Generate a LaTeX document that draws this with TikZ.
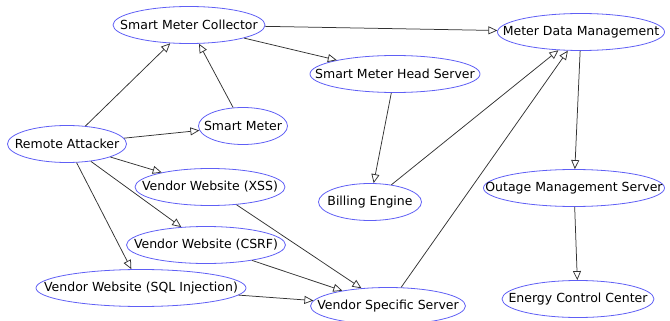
\documentclass[tikz,border=0pt]{standalone}
\usepackage{fontspec}
\setmainfont{DejaVu Sans}
\usepackage{tikz}
\usetikzlibrary{shapes.geometric, arrows.meta}
\definecolor{assetline}{RGB}{95, 95, 245}
\definecolor{edgeline}{RGB}{50, 50, 50}

\begin{document}
\begin{tikzpicture}[
    x=1pt, y=-1pt,
    every node/.style={font=\fontsize{12.5}{15}\selectfont},
    asset/.style={ellipse, draw=assetline, line width=0.8pt, inner xsep=-30pt, inner ysep=0pt, minimum height=37pt},
    arr/.style={-{Triangle[open, length=9pt, width=8pt]}, draw=edgeline, line width=0.75pt},
]
\useasboundingbox (0,0) rectangle (670,321);

% ── Metering layer ──
\node[asset, minimum width=152pt] (collector) at (189,25) {Smart Meter Collector};
\node[asset, minimum width=89pt] (meter) at (243,126) {Smart Meter};
\node[asset, minimum width=170pt] (headsrv) at (395,74) {Smart Meter Head Server};
\node[asset, minimum width=103pt] (billing) at (370,202) {Billing Engine};

% ── Utility back end ──
\node[asset, minimum width=167pt] (mdm) at (581,32) {Meter Data Management};
\node[asset, minimum width=181pt] (outage) at (574,188) {Outage Management Server};
\node[asset, minimum width=152pt] (ecc) at (578,299) {Energy Control Center};

% ── Attacker and vendor side ──
\node[asset, minimum width=119pt] (attacker) at (67,144) {Remote Attacker};
\node[asset, minimum width=150pt] (xss) at (210,187) {Vendor Website (XSS)};
\node[asset, minimum width=159pt] (csrf) at (206,245) {Vendor Website (CSRF)};
\node[asset, minimum width=210pt] (sqli) at (141,288) {Vendor Website (SQL Injection)};
\node[asset, minimum width=155pt] (vendor) at (388,306) {Vendor Specific Server};

% ── Arrows ──
\draw[arr] (attacker) -- (collector);
\draw[arr] (meter) -- (collector);
\draw[arr] (attacker) -- (meter);
\draw[arr] (collector) -- (mdm);
\draw[arr] (collector) -- (headsrv);
\draw[arr] (headsrv) -- (billing);
\draw[arr] (billing) -- (mdm);
\draw[arr] (vendor) -- (mdm);
\draw[arr] (mdm) -- (outage);
\draw[arr] (outage) -- (ecc);
\draw[arr] (attacker) -- (xss);
\draw[arr] (attacker) -- (csrf);
\draw[arr] (attacker) -- (sqli);
\draw[arr] (xss) -- (vendor);
\draw[arr] (csrf) -- (vendor);
\draw[arr] (sqli) -- (vendor);

\end{tikzpicture}
\end{document}
